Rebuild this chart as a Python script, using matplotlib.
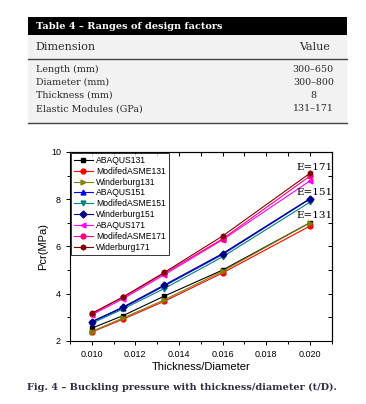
import matplotlib.pyplot as plt
import matplotlib.patches as patches
from matplotlib.lines import Line2D

# t/D values (t = 8 mm, D = 800..400 mm)
td = [0.0100, 0.01143, 0.01333, 0.0160, 0.0200]

abaqus131 = [2.54, 3.07, 3.90, 5.00, 7.00]
asme131 = [2.38, 2.92, 3.68, 4.88, 6.86]
wind131 = [2.40, 2.97, 3.74, 4.95, 7.00]
abaqus151 = [2.80, 3.40, 4.33, 5.66, 8.00]
asme151 = [2.75, 3.35, 4.22, 5.56, 7.87]
wind151 = [2.82, 3.43, 4.37, 5.70, 8.02]
abaqus171 = [3.10, 3.78, 4.80, 6.28, 8.77]
asme171 = [3.15, 3.84, 4.86, 6.32, 8.97]
wind171 = [3.17, 3.86, 4.90, 6.44, 9.09]

series = [
    ('ABAQUS131', abaqus131, 'black', 's'),
    ('ModifedASME131', asme131, 'red', 'o'),
    ('Winderburg131', wind131, '#808000', '>'),
    ('ABAQUS151', abaqus151, 'blue', '^'),
    ('ModifedASME151', asme151, '#008080', 'v'),
    ('Winderburg151', wind151, '#000080', 'D'),
    ('ABAQUS171', abaqus171, '#ff00ff', '<'),
    ('ModifedASME171', asme171, '#ff0080', 'o'),
    ('Widerburg171', wind171, '#800000', 'h'),
]

e_labels = ['E=131', 'E=151', 'E=171']
e_pos = [7.33, 8.30, 9.35]

table_title = 'Table 4 \u2013 Ranges of design factors'
row_names = ['Length (mm)', 'Diameter (mm)', 'Thickness (mm)', 'Elastic Modules (GPa)']
row_values = ['300\u2013650', '300\u2013800', '8', '131\u2013171']
caption = 'Fig. 4 \u2013 Buckling pressure with thickness/diameter (t/D).'

fig = plt.figure(figsize=(3.66, 4.04), dpi=100)
serif = 'DejaVu Serif'
sans = 'Liberation Sans'

# ---------------- table ----------------
txt_col = '#2a2a2a'
fig.patches.append(patches.Rectangle((0.077, 0.696), 0.871, 0.217, transform=fig.transFigure,
                                     facecolor='#f2f2f2', edgecolor='none', zorder=0))
fig.patches.append(patches.Rectangle((0.077, 0.913), 0.871, 0.045, transform=fig.transFigure,
                                     facecolor='black', edgecolor='none', zorder=1))
fig.text(0.098, 0.935, table_title, color='white', fontsize=7, fontweight='bold',
         family=serif, va='center')
fig.text(0.098, 0.884, 'Dimension', color=txt_col, fontsize=8, family=serif, va='center')
fig.text(0.902, 0.884, 'Value', color=txt_col, fontsize=8, family=serif, va='center', ha='right')
fig.lines.append(Line2D([0.077, 0.948], [0.854, 0.854], transform=fig.transFigure, color='#444444', lw=1.0))
fig.lines.append(Line2D([0.077, 0.948], [0.696, 0.696], transform=fig.transFigure, color='#444444', lw=1.0))
row_y = [0.827, 0.797, 0.764, 0.731]
for name, val, y in zip(row_names, row_values, row_y):
    fig.text(0.098, y, name, color=txt_col, fontsize=6.8, family=serif, va='center')
    fig.text(0.856, y, val, color=txt_col, fontsize=6.8, family=serif, va='center', ha='center')

# ---------------- chart ----------------
ax = fig.add_axes([0.191, 0.156, 0.715, 0.468])
for label, vals, col, mk in series:
    ax.plot(td, vals, color=col, marker=mk, markersize=3.5, linewidth=0.8, label=label)

for lab, y in zip(e_labels, e_pos):
    ax.text(0.0202, y, lab, fontsize=7.5, family=serif, ha='center', va='center')

ax.set_xlim(0.009, 0.021)
ax.set_ylim(2, 10)
ax.set_xticks([0.010, 0.012, 0.014, 0.016, 0.018, 0.020])
ax.set_xticks([0.009, 0.011, 0.013, 0.015, 0.017, 0.019, 0.021], minor=True)
ax.set_yticks([2, 4, 6, 8, 10])
ax.set_yticks([3, 5, 7, 9], minor=True)
ax.xaxis.set_major_formatter(plt.FormatStrFormatter('%.3f'))
ax.tick_params(which='major', direction='out', length=3, width=0.7, labelsize=6.5)
ax.tick_params(which='minor', direction='out', length=2, width=0.7)
# inner ticks on the top and right frame
sx = ax.secondary_xaxis('top')
sx.set_xticks([0.009, 0.010, 0.011, 0.012, 0.013, 0.014, 0.015, 0.016, 0.017, 0.018, 0.019, 0.020, 0.021])
sx.tick_params(direction='in', length=3, width=0.7, labeltop=False)
sy = ax.secondary_yaxis('right')
sy.set_yticks([2, 3, 4, 5, 6, 7, 8, 9, 10])
sy.tick_params(direction='in', length=3, width=0.7, labelright=False)
for a in (ax, sx, sy):
    for s in a.spines.values():
        s.set_linewidth(0.8)
for lab in ax.get_xticklabels() + ax.get_yticklabels():
    lab.set_family(sans)
ax.set_xlabel('Thickness/Diameter', fontsize=8, labelpad=2, family=sans)
ax.set_ylabel('Pcr(MPa)', fontsize=8, labelpad=2, family=sans)

leg = ax.legend(loc='upper left', prop={'family': sans, 'size': 6.2}, frameon=True, fancybox=False,
                edgecolor='black', handlelength=2.2, labelspacing=0.22, borderpad=0.3,
                handletextpad=0.4, borderaxespad=0.15)
leg.get_frame().set_linewidth(0.7)

fig.text(0.075, 0.042, caption, color='#2e2e40', fontsize=7, fontweight='bold',
         family=serif, va='center')

fig.savefig('out.png', dpi=100)
